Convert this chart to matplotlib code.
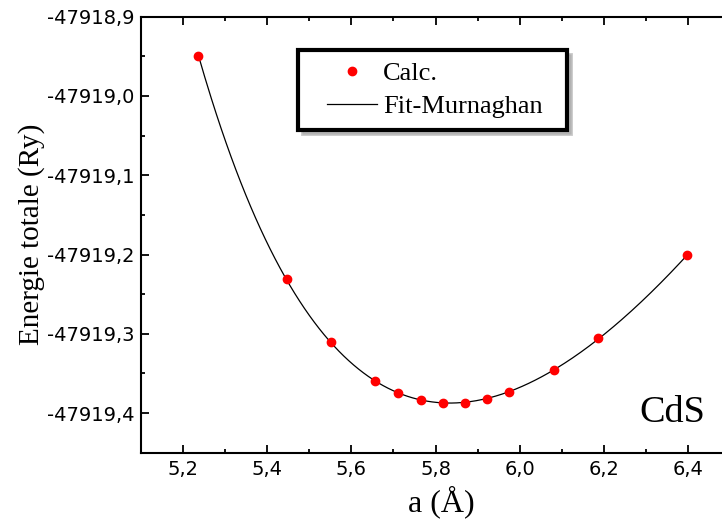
import numpy as np
import matplotlib
matplotlib.use("Agg")
import matplotlib.pyplot as plt
from matplotlib.patches import Rectangle
from matplotlib.transforms import offset_copy
from matplotlib.ticker import FuncFormatter, MultipleLocator

# lattice parameter (A) and total energy (Ry)
a_calc = [5.236, 5.446, 5.551, 5.656, 5.711, 5.765, 5.817, 5.870, 5.922, 5.975, 6.081, 6.187, 6.398]
e_calc = [-47918.949, -47919.231, -47919.310, -47919.360, -47919.375, -47919.384,
          -47919.387, -47919.387, -47919.382, -47919.373, -47919.346, -47919.305, -47919.200]

labels = ["Calc.", "Fit-Murnaghan"]
compound = "CdS"


def murnaghan_fit(a, e):
    # zinc blende: V = a^3/4, fit E0 and B linearly on a grid of V0, B'
    v = np.asarray(a) ** 3 / 4.0
    e = np.asarray(e)
    off = e.mean()
    best = None
    for v0 in np.linspace(v.min(), v.max(), 300):
        for bp in np.linspace(1.5, 8.0, 66):
            f = v / bp * ((v0 / v) ** bp / (bp - 1) + 1) - v0 / (bp - 1)
            A = np.column_stack([np.ones_like(f), f])
            coef, *_ = np.linalg.lstsq(A, e - off, rcond=None)
            res = np.sum((A @ coef - (e - off)) ** 2)
            if best is None or res < best[0]:
                best = (res, v0, bp, coef)
    _, v0, bp, coef = best

    def energy(aa):
        vv = np.asarray(aa) ** 3 / 4.0
        f = vv / bp * ((v0 / vv) ** bp / (bp - 1) + 1) - v0 / (bp - 1)
        return off + coef[0] + coef[1] * f
    return energy


fit = murnaghan_fit(a_calc, e_calc)
a_fit = np.linspace(min(a_calc), max(a_calc), 300)
e_fit = fit(a_fit)

fig = plt.figure(figsize=(7.22, 5.21), dpi=100)
ax = fig.add_axes([0.1953, 0.1311, 0.8158, 0.8369])

ax.plot(a_fit, e_fit, color="black", lw=0.9, label=labels[1], zorder=2)
ax.plot(a_calc, e_calc, "o", color="red", ms=6, mec="red", label=labels[0], zorder=3)

ax.set_xlim(5.1, 6.5)
ax.set_ylim(-47919.45, -47918.9)
ax.xaxis.set_major_locator(MultipleLocator(0.2))
ax.xaxis.set_minor_locator(MultipleLocator(0.1))
ax.yaxis.set_major_locator(MultipleLocator(0.1))
ax.yaxis.set_minor_locator(MultipleLocator(0.05))
ax.xaxis.set_major_formatter(FuncFormatter(lambda x, p: f"{x:.1f}".replace(".", ",")))
ax.yaxis.set_major_formatter(FuncFormatter(lambda y, p: f"{y:.1f}".replace(".", ",")))

for s in ax.spines.values():
    s.set_linewidth(1.5)
ax.spines["right"].set_visible(False)
ax.tick_params(which="both", direction="in", top=True, right=False, width=1.3)
ax.tick_params(which="major", length=6, labelsize=14, pad=5)
ax.tick_params(which="minor", length=3)
for t in ax.get_xticklabels() + ax.get_yticklabels():
    t.set_family("DejaVu Sans")

ax.set_xlabel("a (Å)", family="Liberation Serif", fontsize=23, labelpad=0)
ax.xaxis.set_label_coords(0.51, -0.075)
ax.set_ylabel("Energie totale (Ry)", family="Liberation Serif", fontsize=21, labelpad=1)

ax.text(0.958, 0.091, compound, transform=ax.transAxes, ha="right", va="center",
        family="Liberation Serif", fontsize=27.5)

# legend box drawn separately (wider left margin than matplotlib's padding allows)
box = (0.267, 0.740, 0.456, 0.184)
shadow_tr = offset_copy(ax.transAxes, fig=fig, x=3, y=-3, units="points")
ax.add_patch(Rectangle(box[:2], box[2], box[3], transform=shadow_tr,
                       facecolor="#9a9a9a", edgecolor="#b0b0b0", lw=2, alpha=0.7, zorder=4))
ax.add_patch(Rectangle(box[:2], box[2], box[3], transform=ax.transAxes,
                       facecolor="white", edgecolor="black", lw=3, zorder=5))

h, l = ax.get_legend_handles_labels()
leg = ax.legend(h[::-1], l[::-1], loc="upper left", bbox_to_anchor=(0.316, 0.896),
                borderaxespad=0, frameon=False,
                prop={"family": "Liberation Serif", "size": 19},
                handlelength=1.9, handletextpad=0.22, labelspacing=0.35,
                borderpad=0, markerscale=1.0)
leg.set_zorder(6)

fig.savefig("out.png", dpi=100)
